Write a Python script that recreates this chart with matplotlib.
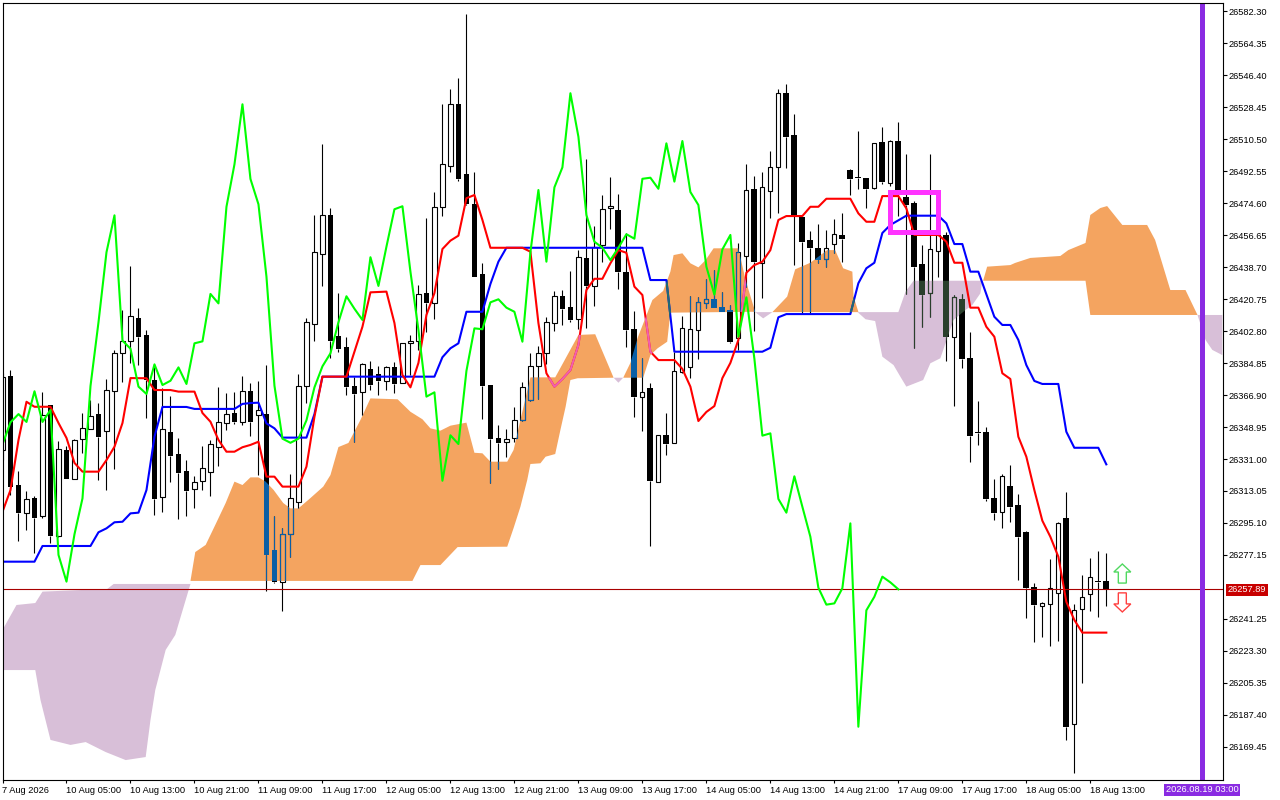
import numpy as np
import matplotlib
matplotlib.use("Agg")
import matplotlib.pyplot as plt
from matplotlib.path import Path
from matplotlib.patches import PathPatch, Rectangle, Polygon

plt.rcParams['font.family'] = ['Liberation Sans', 'DejaVu Sans']

BASE = 26000.0   # all prices below are points above this level
OPEN = [336.1,377.6,316.4,300.5,309.1,299.2,361.1,288.0,336.1,320.0,342.4,348.0,356.2,346.9,369.3,390.6,397.4,409.9,400.6,375.3,
309.9,346.1,333.8,324.3,314.3,318.5,323.9,337.9,351.0,357.0,351.9,369.0,355.7,356.1,279.9,262.2,288.8,306.7,372.1,406.6,
445.8,467.7,400.0,393.7,371.9,368.8,381.5,378.5,374.9,382.4,373.8,395.9,397.0,423.9,418.3,472.2,495.4,530.0,490.9,473.9,
434.8,372.5,342.6,340.4,342.6,352.7,363.9,383.0,390.3,407.1,422.4,416.3,409.4,443.6,428.1,450.9,471.6,470.7,435.9,403.9,
366.0,370.8,318.3,344.5,340.1,379.6,382.4,403.2,418.3,420.6,416.3,414.6,398.7,445.1,482.5,441.1,481.5,495.0,536.2,512.8,
466.9,453.9,449.2,443.0,451.4,456.7,493.1,489.2,488.5,483.2,508.7,486.0,509.4,477.8,474.6,440.2,423.9,447.9,456.7,399.6,
420.8,387.6,346.0,346.0,308.9,301.1,315.7,305.0,290.0,259.0,248.7,249.8,255.7,297.7,182.2,246.7,255.1,262.4,262.4]
HIGH = [379.2,380.9,324.3,313.0,310.2,368.8,361.3,341.1,338.3,342.2,356.8,364.1,362.6,375.9,392.2,414.6,439.3,415.5,403.4,382.8,
370.7,366.3,342.6,330.4,321.5,338.3,341.7,371.6,367.9,368.8,377.6,373.6,374.8,383.7,299.0,292.1,322.6,378.7,410.3,467.9,
507.7,471.6,423.9,399.3,377.0,384.9,386.1,383.2,383.2,385.2,396.1,400.6,428.6,466.0,480.6,530.2,538.4,544.6,580.6,492.2,
440.8,372.5,350.1,347.8,360.0,374.0,390.6,394.4,410.5,425.3,425.8,436.5,448.3,499.1,461.7,478.9,489.0,479.7,458.0,414.0,
387.5,373.5,344.5,356.6,391.0,411.2,422.4,421.9,431.8,437.0,424.7,417.4,452.0,496.5,489.8,492.0,503.8,538.6,541.4,524.5,
466.9,458.9,462.8,459.5,465.5,468.8,493.7,515.0,488.5,508.1,517.1,510.0,519.9,502.1,475.7,451.1,502.1,457.8,458.5,423.0,
423.6,402.1,363.5,348.8,319.8,322.4,327.6,311.4,290.4,261.6,250.8,274.9,295.5,312.3,249.7,265.8,275.3,279.2,278.3]
LOW = [330.4,310.8,285.0,291.2,278.4,298.1,284.0,287.4,319.8,319.8,334.4,347.8,319.2,313.6,325.4,374.4,385.0,383.7,354.2,299.6,
301.3,318.1,297.3,299.0,303.7,313.6,310.4,327.1,347.3,350.6,350.1,343.9,322.0,257.1,261.6,245.9,276.0,303.5,362.6,397.4,
428.2,387.8,391.2,366.9,340.5,355.7,369.7,366.9,369.7,368.2,373.5,378.1,392.2,402.4,409.5,467.5,492.2,487.1,473.5,433.1,
353.3,317.4,325.6,332.3,340.7,352.5,363.7,364.8,384.1,402.8,406.2,407.7,403.9,404.5,416.8,441.7,460.0,426.2,394.0,354.7,
346.9,282.4,318.1,333.4,340.0,379.5,376.4,387.3,415.9,415.8,413.3,396.2,392.2,427.7,403.0,421.2,466.4,469.2,494.4,439.8,
412.7,412.7,441.1,438.9,446.4,441.7,479.1,482.3,472.0,482.3,485.3,484.3,467.5,423.6,393.4,405.2,410.5,433.3,386.1,360.9,
382.2,329.5,338.9,307.6,296.8,292.5,295.8,263.1,242.0,228.5,231.3,226.3,228.9,173.4,154.7,205.5,245.9,242.2,248.5]
CLOSE = [377.0,315.5,300.9,308.4,298.1,355.7,288.0,336.4,320.0,341.7,348.2,355.1,343.3,369.5,390.3,397.0,411.2,399.6,375.3,308.7,
347.7,332.7,323.3,313.0,317.9,325.8,339.2,351.6,356.2,351.8,369.0,351.8,358.5,277.2,262.2,288.8,308.9,371.9,407.7,447.0,
467.7,397.4,392.9,371.6,367.5,384.1,372.5,374.9,382.4,373.1,395.9,397.0,423.6,418.3,472.5,496.3,530.0,488.1,473.9,433.3,
372.1,342.4,340.1,342.4,352.7,371.2,383.0,390.3,407.7,422.3,415.3,409.0,444.2,428.1,450.1,471.1,472.8,436.1,403.4,366.0,
368.4,318.8,344.3,339.4,380.4,404.3,403.8,418.9,420.6,415.9,413.6,396.8,447.0,481.9,441.7,483.4,494.6,536.2,511.8,467.9,
452.9,449.5,442.6,449.5,457.1,454.6,488.2,488.8,482.6,508.1,486.6,509.4,480.8,473.5,438.9,423.2,448.6,456.7,399.6,421.7,
387.3,344.1,345.4,308.6,300.9,321.3,304.2,287.4,258.8,249.3,250.0,258.5,294.9,180.8,246.1,253.7,265.0,261.8,257.9]

CHIKOU = [339.2,351.6,356.2,351.8,369.0,351.8,358.5,277.2,262.2,288.8,308.9,371.9,407.7,447.0,
467.7,397.4,392.9,371.6,367.5,384.1,372.5,374.9,382.4,373.1,395.9,397.0,423.6,418.3,472.5,496.3,530.0,488.1,473.9,433.3,
372.1,342.4,340.1,342.4,352.7,371.2,383.0,390.3,407.7,422.3,415.3,409.0,444.2,428.1,450.1,471.1,472.8,436.1,403.4,366.0,
368.4,318.8,344.3,339.4,380.4,404.3,403.8,418.9,420.6,415.9,413.6,396.8,447.0,481.9,441.7,483.4,494.6,536.2,511.8,467.9,
452.9,449.5,442.6,449.5,457.1,454.6,488.2,488.8,482.6,508.1,486.6,509.4,480.8,473.5,438.9,423.2,448.6,456.7,399.6,421.7,
387.3,344.1,345.4,308.6,300.9,321.3,304.2,287.4,258.8,249.3,250.0,258.5,294.9,180.8,246.1,253.7,265.0,261.8,257.9]

TENKAN_BAR = [0,1,2,3,4,6,7,8,9,10,12,13,14,15,16,18,19,21,22,24,25,26,27,28,29,30,31,32,33,34,35,37,38,39,40,43,44,45,46,48,49,50,51,52,53,54,
55,56,57,58,59,60,61,65,66,67,68,69,70,71,72,73,74,75,76,77,78,79,80,81,82,84,85,86,87,88,89,90,91,92,93,94,95,96,97,98,100,101,102,103,106,107,108,109,110,112,113,114,117,118,119,120,121,122,123,124,125,126,127,128,129,130,131,132,133,134,135,138]
TENKAN = [301.4,313.6,341.7,363.1,360.3,360.3,351.2,342.8,328.8,323.9,323.9,330.4,337.9,351.2,376.4,376.3,369.7,369.7,368.8,368.8,356.8,351.9,341.7,335.1,335.1,337.6,338.9,340.7,321.1,321.1,315.5,315.5,326.7,354.7,377.2,377.2,391.2,405.2,424.5,424.9,407.3,378.1,371.2,384.9,411.8,424.1,
448.8,453.5,456.3,477.3,479.1,465.1,449.5,449.5,447.3,407.3,379.1,371.6,375.9,380.9,395.0,425.8,432.1,432.1,440.8,448.2,446.7,427.7,423.0,391.2,386.5,386.5,381.5,371.6,352.3,357.4,360.7,376.4,384.9,397.8,435.5,439.8,441.7,448.2,465.1,467.3,467.3,472.5,472.5,477.0,477.0,468.8,464.1,464.1,478.5,478.5,471.6,456.7,456.7,452.9,441.1,441.1,415.9,415.9,405.2,399.6,379.1,375.9,343.5,332.3,313.6,296.4,287.4,276.2,250.9,240.7,233.6,233.6]

KIJUN_BAR = [0,4,5,11,12,13,14,15,16,17,18,19,20,23,24,29,30,31,32,33,34,35,38,39,40,54,55,56,57,58,60,61,62,63,80,81,83,84,95,96,97,98,106,107,108,109,110,111,113,117,118,119,120,121,122,124,125,126,127,128,129,130,132,133,134,137,138]
KIJUN = [273.4,273.4,282.2,282.2,289.9,292.1,295.5,295.8,300.5,300.9,313.6,343.5,360.2,360.2,359.1,359.1,361.9,362.4,362.6,351.0,348.2,343.0,343.0,356.2,377.2,377.2,388.1,393.1,395.9,413.6,413.6,429.2,441.7,449.5,449.5,431.4,431.4,391.2,391.2,393.4,410.5,412.3,412.3,429.6,438.0,441.1,457.8,462.3,467.5,467.5,463.2,451.6,451.6,436.1,436.1,410.8,406.2,406.2,397.8,383.7,374.8,373.1,373.1,346.3,337.3,337.3,328.0]

# cloud outlines: bar position, upper price / lower price
P1_UP_X = [0,1.75,4.1,5,13.1,13.9,23.25,23.5]
P1_UP = [235.1,249.1,250.2,256.6,258.1,260.9,260.9,260.9]
P1_LO_X = [0,4.1,4.75,6,8.5,10.4,12.9,15.4,17.9,18.5,19.1,20.4,21.6,22.9,23.5]
P1_LO = [212.6,212.6,195.8,173.4,170.6,172.2,166.6,162.1,163.8,184.6,201.4,223.9,232.3,251.9,260.9]
O1_UP_X = [23.5,24.1,25.4,26.6,27.9,29,30,31,32,32.9,33.9,35.1,36,37,38.5,40.1,41,42,43.25,44.75,46,49.4,51,52.5,53.5,54.75,56,58,59,60,61,63.1,63.9,64.75,66,69.1,72,74.1,76.4]
O1_UP = [262.6,278.8,282.8,294.0,306.3,318.3,316.4,320.7,320.7,318.3,313.6,306.3,303.3,303.3,309.1,315.5,322.0,337.7,340.0,352.9,365.0,364.5,357.5,353.3,348.2,346.9,349.7,351.4,334.5,334.2,329.5,329.5,336.1,352.9,376.8,376.8,400.6,401.0,376.6]
O1_LO_X = [23.5,51.25,52.25,54.75,56.9,63.1,63.9,64.75,65.6,66,67.25,67.9,69.1,69.75,70.4,71,71.9,76.4]
O1_LO = [262.6,262.6,271.5,271.5,281.6,281.8,292.3,304.2,319.2,328.2,328.6,332.3,333.8,347.3,360.3,375.3,376.3,376.6]
P2_UP_X = [76.4,77.6]
P2_UP = [376.6,376.6]
P2_LO_X = [76.4,77,77.6]
P2_LO = [376.6,373.8,376.6]
O2_UP_X = [77.6,78.5,79.4,80.6,81.25,82.6,83.5,83.9,85,86,87,87.9,88.9,92,92.9,94.1]
O2_UP = [376.6,384.9,398.9,412.7,420.2,425.3,436.1,445.4,446.4,440.8,438.5,442.6,449.2,449.2,431.4,413.6]
O2_LO_X = [77.6,80.1,81,81.9,83.1,83.5,94.1]
O2_LO = [376.6,376.6,389.3,393.1,396.8,413.1,413.6]
P3_UP_X = [94.1,96.25]
P3_UP = [413.4,413.4]
P3_LO_X = [94.1,95.1,96.25]
P3_LO = [413.4,409.9,413.4]
O3_UP_X = [96.25,98.1,99.1,101,103.1,104.1,105.1,106.25,106.4,107]
O3_UP = [413.4,422.1,437.4,441.1,448.2,448.2,438.0,436.1,422.1,413.6]
O3_LO_X = [96.25,107]
O3_LO = [413.4,413.4]
P4_UP_X = [106.9,112,112.9,113.9,122.5]
P4_UP = [413.4,413.4,424.9,431.0,431.0]
P4_LO_X = [106.9,107.9,109.1,110,111.4,112.25,113,115.1,116,117.25,118.9,120.4,121.25,122.25,122.5]
P4_LO = [413.4,409.4,408.4,388.4,383.7,377.2,371.6,375.3,384.7,387.5,409.0,414.6,417.4,423.9,431.0]
O4_UP_X = [122.6,123.1,126,126.6,128.5,132.25,133.25,135.4,136,137.25,138.1,140,143.1,144.1,146,147.9,149.4]
O4_UP = [431.0,438.9,439.8,441.0,443.8,444.9,448.2,452.2,467.9,471.8,472.9,462.3,462.3,453.9,425.8,425.8,411.8]
O4_LO_X = [122.6,135.4,136,149.4]
O4_LO = [431.0,431.0,411.8,411.8]
P5_UP_X = [149.4,152.5]
P5_UP = [411.8,411.8]
P5_LO_X = [149.4,150.4,151.25,152.5]
P5_LO = [411.8,397.8,392.2,389.3]

Y_TICKS = [26582.30,26564.35,26546.40,26528.45,26510.50,26492.55,26474.60,26456.65,26438.70,26420.75,26402.80,26384.85,
           26366.90,26348.95,26331.00,26313.05,26295.10,26277.15,26241.25,26223.30,26205.35,26187.40,26169.45]
X_TICK_BARS = [0,8,16,24,32,40,48,56,64,72,80,88,96,104,112,120,128,136]
X_TICK_LABELS = ["7 Aug 2026","10 Aug 05:00","10 Aug 13:00","10 Aug 21:00","11 Aug 09:00","11 Aug 17:00","12 Aug 05:00",
                 "12 Aug 13:00","12 Aug 21:00","13 Aug 09:00","13 Aug 17:00","14 Aug 05:00","14 Aug 13:00","14 Aug 21:00",
                 "17 Aug 09:00","17 Aug 17:00","18 Aug 05:00","18 Aug 13:00"]
LAST_PRICE = 26257.89
LAST_LABEL = "26257.89"
FUTURE_BAR = 150.02
FUTURE_LABEL = "2026.08.19 03:00"
BOX_BARS = (110.98, 116.98)
BOX_PRICES = (458.1, 480.8)
ARROW_BAR = 140.0
UP_ARROW = (261.4, 272.1)      # bottom, tip
DOWN_ARROW = (255.9, 245.2)    # top, tip

ORANGE = '#F4A460'; PURPLE = '#D8BFD8'
WIDTH, HEIGHT = 1280, 800
fig = plt.figure(figsize=(WIDTH/100, HEIGHT/100), dpi=100, facecolor='white')
AX_L, AX_R, AX_T, AX_B = 2.5, 1222.5, 2.5, 779.5
ax = fig.add_axes([AX_L/WIDTH, 1-AX_B/HEIGHT, (AX_R-AX_L)/WIDTH, (AX_B-AX_T)/HEIGHT])
ax.set_xlim(0.025, 152.525)
ax.set_ylim(BASE+151.2, BASE+587.1)

o, h, l, c = [np.array(a)+BASE for a in (OPEN, HIGH, LOW, CLOSE)]
bars = np.arange(len(o))

def region(ux, uy, lx, ly):
    pts = list(zip(ux, np.array(uy)+BASE)) + list(zip(lx[::-1], (np.array(ly)+BASE)[::-1]))
    return Path(np.array(pts+[pts[0]]), closed=True)

orange_path = Path.make_compound_path(
    region(O1_UP_X,O1_UP,O1_LO_X,O1_LO), region(O2_UP_X,O2_UP,O2_LO_X,O2_LO),
    region(O3_UP_X,O3_UP,O3_LO_X,O3_LO), region(O4_UP_X,O4_UP,O4_LO_X,O4_LO))
purple_path = Path.make_compound_path(
    region(P1_UP_X,P1_UP,P1_LO_X,P1_LO), region(P2_UP_X,P2_UP,P2_LO_X,P2_LO),
    region(P3_UP_X,P3_UP,P3_LO_X,P3_LO), region(P4_UP_X,P4_UP,P4_LO_X,P4_LO),
    region(P5_UP_X,P5_UP,P5_LO_X,P5_LO))
ax.add_patch(PathPatch(orange_path, fc=ORANGE, ec='none', zorder=1))
ax.add_patch(PathPatch(purple_path, fc=PURPLE, ec='none', zorder=1))

def candles(color, z, clip=None):
    top = np.maximum(o, c); bot = np.minimum(o, c)
    arts = [ax.vlines(bars, top, h, color=color, lw=0.8, zorder=z),
            ax.vlines(bars, l, bot, color=color, lw=0.8, zorder=z)]
    up = c >= o
    b1 = ax.bar(bars[~up], (top-bot)[~up], bottom=bot[~up], width=5.8/8, color=color, lw=0, zorder=z)
    b2 = ax.bar(bars[up], (top-bot)[up], bottom=bot[up], width=4.2/8, fill=False, edgecolor=color, lw=0.8, zorder=z)
    arts += list(b1.patches) + list(b2.patches)
    if clip is not None:
        for a in arts:
            a.set_clip_path(clip, ax.transData)

candles('black', 2)
candles('#0B5FA5', 2.1, orange_path)
candles('#2A3F2C', 2.1, purple_path)

ax.axhline(LAST_PRICE, color='#A80000', lw=0.8, zorder=2.5)

tk_x, tk_y = np.array(TENKAN_BAR), np.array(TENKAN)+BASE
kj_x, kj_y = np.array(KIJUN_BAR), np.array(KIJUN)+BASE
LW = 1.5
ax.plot(kj_x, kj_y, color='#0000FF', lw=LW, zorder=3, solid_joinstyle='round')
ax.plot(tk_x, tk_y, color='#FF0000', lw=LW, zorder=3.1, solid_joinstyle='round')
ln, = ax.plot(kj_x, kj_y, color='#1F6B70', lw=LW, zorder=3.2); ln.set_clip_path(orange_path, ax.transData)
ln, = ax.plot(tk_x, tk_y, color='#F060B0', lw=LW, zorder=3.3); ln.set_clip_path(orange_path, ax.transData)
ax.plot(np.arange(len(CHIKOU)), np.array(CHIKOU)+BASE, color='#00FF00', lw=LW, zorder=3.4, solid_joinstyle='round')

ax.axvline(FUTURE_BAR, color='#8A2BE2', lw=3.6, zorder=4)
ax.add_patch(Rectangle((BOX_BARS[0], BOX_PRICES[0]+BASE), BOX_BARS[1]-BOX_BARS[0], BOX_PRICES[1]-BOX_PRICES[0],
                       fill=False, ec='#FF33FF', lw=3.6, zorder=5, joinstyle='miter'))

def arrow(base_price, tip_price, colour):
    hw, sw = 1.06, 0.5
    b, t = base_price+BASE, tip_price+BASE
    neck = t + (b-t)*0.42
    pts = [(ARROW_BAR-sw,b),(ARROW_BAR-sw,neck),(ARROW_BAR-hw,neck),(ARROW_BAR,t),(ARROW_BAR+hw,neck),(ARROW_BAR+sw,neck),(ARROW_BAR+sw,b)]
    ax.add_patch(Polygon(pts, closed=True, fill=False, ec=colour, lw=1.0, zorder=5))
arrow(*UP_ARROW, '#50D860')
arrow(*DOWN_ARROW, '#FF4040')

for s in ax.spines.values():
    s.set_linewidth(0.8); s.set_color('black'); s.set_zorder(6)
FS = 6.7
ax.yaxis.tick_right()
ax.set_yticks(Y_TICKS)
ax.set_yticklabels([f"{v:.2f}" for v in Y_TICKS], fontsize=FS)
ax.tick_params(axis='y', length=3, width=0.8, pad=1.5)
ax.set_xticks(X_TICK_BARS)
ax.set_xticklabels(X_TICK_LABELS, fontsize=FS, ha='left')
ax.tick_params(axis='x', length=2.5, width=0.8, pad=2.5)

fig.text(1247/WIDTH, 1-589.8/HEIGHT, LAST_LABEL, color='white', fontsize=FS, ha='center', va='center',
         bbox=dict(boxstyle='square,pad=0.18', fc='#C80000', ec='none'), zorder=10)
fig.text(1202/WIDTH, 1-790/HEIGHT, FUTURE_LABEL, color='white', fontsize=FS, ha='center', va='center',
         bbox=dict(boxstyle='square,pad=0.18', fc='#8A2BE2', ec='none'), zorder=10)

fig.savefig('out.png', dpi=100)
